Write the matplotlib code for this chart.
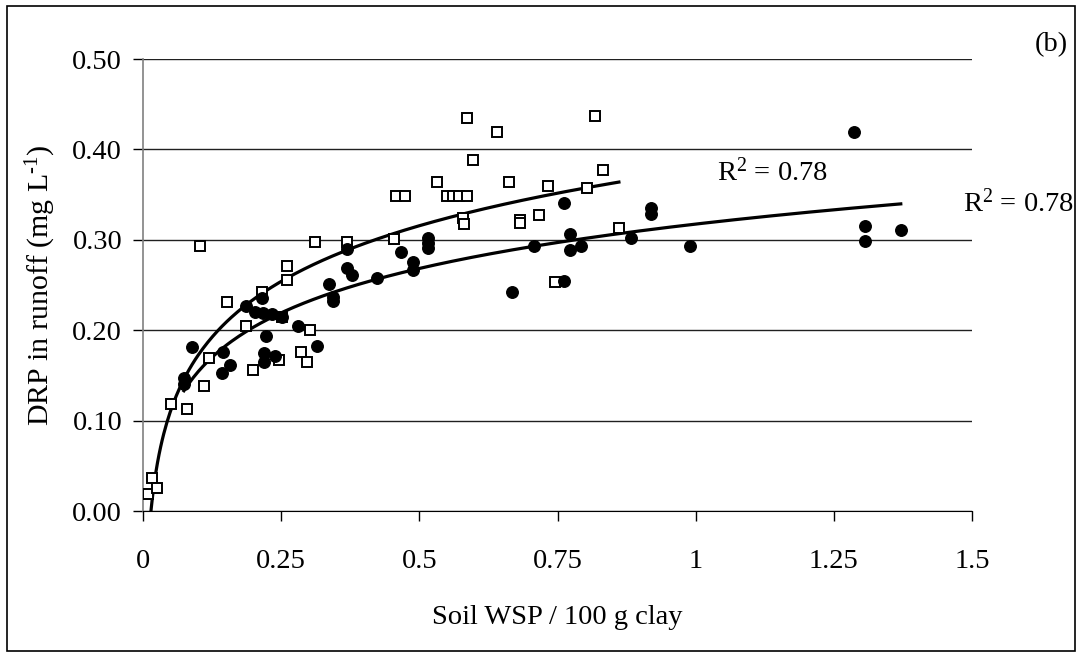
import numpy as np
import matplotlib
matplotlib.use("Agg")
import matplotlib.pyplot as plt
from matplotlib.patches import Rectangle

plt.rcParams['font.family'] = ['Liberation Serif', 'DejaVu Serif']
plt.rcParams['mathtext.fontset'] = 'custom'
plt.rcParams['mathtext.rm'] = 'Liberation Serif'
plt.rcParams['mathtext.it'] = 'Liberation Serif:italic'

# open squares
sq_x = [0.009, 0.016, 0.025, 0.051, 0.080, 0.103, 0.110, 0.119, 0.152, 0.186,
        0.199, 0.215, 0.246, 0.251, 0.260, 0.260, 0.286, 0.297, 0.302, 0.311,
        0.369, 0.454, 0.458, 0.474, 0.532, 0.550, 0.561, 0.572, 0.586, 0.579,
        0.581, 0.586, 0.597, 0.640, 0.662, 0.682, 0.682, 0.716, 0.732, 0.745,
        0.803, 0.817, 0.832, 0.861]
sq_y = [0.019, 0.037, 0.025, 0.118, 0.113, 0.293, 0.138, 0.169, 0.231, 0.205,
        0.156, 0.242, 0.167, 0.215, 0.271, 0.256, 0.176, 0.165, 0.200, 0.298,
        0.298, 0.301, 0.348, 0.348, 0.364, 0.348, 0.348, 0.348, 0.348, 0.324,
        0.317, 0.435, 0.388, 0.419, 0.364, 0.322, 0.319, 0.328, 0.359, 0.253,
        0.357, 0.437, 0.377, 0.313]

# filled circles
ci_x = [0.074, 0.074, 0.089, 0.143, 0.145, 0.157, 0.186, 0.203, 0.215, 0.217,
        0.219, 0.219, 0.222, 0.233, 0.239, 0.251, 0.280, 0.315, 0.336, 0.343,
        0.343, 0.369, 0.369, 0.378, 0.423, 0.466, 0.488, 0.488, 0.516, 0.516,
        0.516, 0.667, 0.707, 0.761, 0.761, 0.772, 0.772, 0.792, 0.882, 0.919,
        0.919, 0.989, 1.287, 1.306, 1.306, 1.371]
ci_y = [0.147, 0.141, 0.182, 0.153, 0.176, 0.161, 0.227, 0.220, 0.236, 0.219,
        0.175, 0.165, 0.194, 0.218, 0.171, 0.215, 0.205, 0.183, 0.251, 0.237,
        0.232, 0.290, 0.269, 0.261, 0.258, 0.286, 0.275, 0.267, 0.302, 0.297,
        0.291, 0.242, 0.293, 0.341, 0.255, 0.306, 0.289, 0.293, 0.302, 0.335,
        0.329, 0.293, 0.419, 0.315, 0.299, 0.311]

x_ticks = [0, 0.25, 0.5, 0.75, 1, 1.25, 1.5]
x_labels = ['0', '0.25', '0.5', '0.75', '1', '1.25', '1.5']
y_ticks = [0.0, 0.1, 0.2, 0.3, 0.4, 0.5]

fig = plt.figure(figsize=(10.82, 6.56), dpi=100)
ax = fig.add_axes([0.1322, 0.2210, 0.7662, 0.6890])

# logarithmic trendlines fitted to each series
for xs, ys in [(sq_x, sq_y), (ci_x, ci_y)]:
    xs = np.array(xs)
    a, b = np.polyfit(np.log(xs), np.array(ys), 1)
    xx = np.linspace(xs.min(), xs.max(), 300)
    ax.plot(xx, a * np.log(xx) + b, color='black', lw=2.3, zorder=2)

ax.plot(sq_x, sq_y, 's', ms=7.5, mfc='white', mec='black', mew=1.4, zorder=3)
ax.plot(ci_x, ci_y, 'o', ms=8.3, mfc='black', mec='black', zorder=3)

ax.set_xlim(0, 1.5)
ax.set_ylim(0, 0.5)
ax.set_xticks(x_ticks)
ax.set_xticklabels(x_labels)
ax.set_yticks(y_ticks)
ax.set_yticklabels(['%.2f' % v for v in y_ticks])
ax.tick_params(labelsize=20.5, length=7, width=1, direction='out', pad=8)
ax.tick_params(axis='x', pad=20)

ax.yaxis.grid(True, color='#202020', lw=1)
ax.set_axisbelow(True)
for s in ['top', 'right']:
    ax.spines[s].set_visible(False)
ax.spines['left'].set_color('#808080')
ax.spines['left'].set_linewidth(1.2)
ax.spines['bottom'].set_color('black')

ax.set_ylabel(r'DRP in runoff (mg L$^{\text{-1}}$)', fontsize=21.5, labelpad=10)
fig.text(0.515, 1 - 618 / 656, 'Soil WSP / 100 g clay', fontsize=20.5,
         ha='center', va='center')

fig.text(717 / 1082, 1 - 172 / 656, 'R$^2$ = 0.78', fontsize=20.5, ha='left', va='center')
fig.text(963 / 1082, 1 - 203 / 656, 'R$^2$ = 0.78', fontsize=20.5, ha='left', va='center')
fig.text(1068 / 1082, 1 - 45 / 656, '(b)', fontsize=20.5, ha='right', va='center')

fig.patches.append(Rectangle((7 / 1082, 5 / 656), 1068 / 1082, 645 / 656,
                             transform=fig.transFigure, fill=False,
                             edgecolor='black', lw=1.2))

fig.savefig('out.png', dpi=100)
